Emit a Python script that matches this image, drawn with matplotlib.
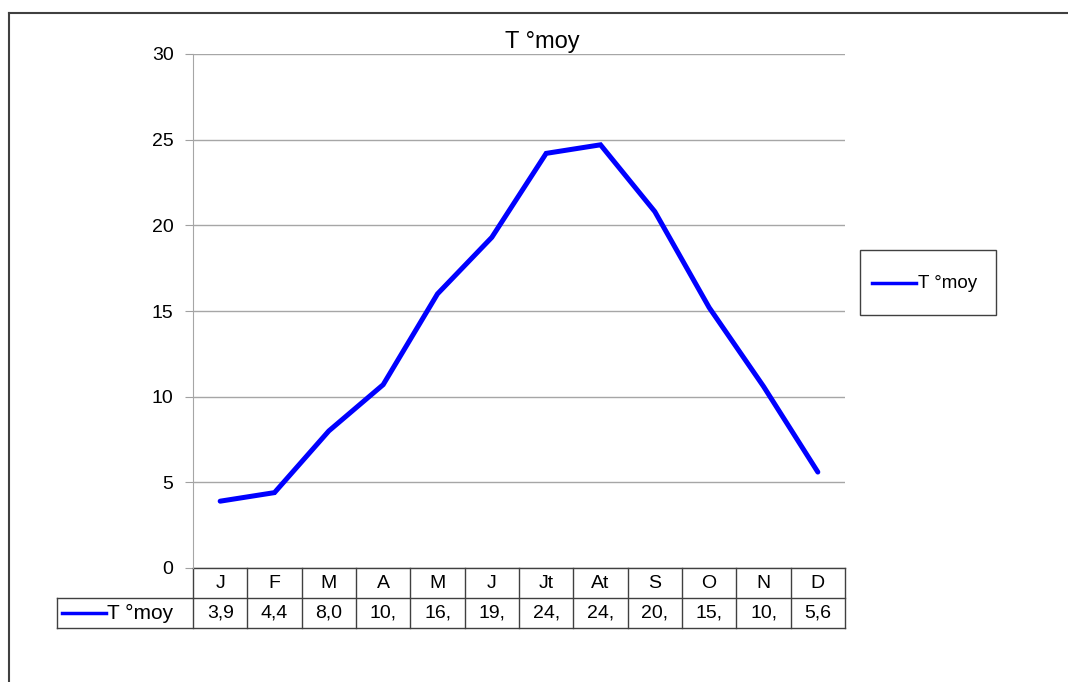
import matplotlib
matplotlib.use("Agg")
import matplotlib.pyplot as plt
from matplotlib.lines import Line2D
from matplotlib.patches import Rectangle
from matplotlib.transforms import blended_transform_factory

months = ["J", "F", "M", "A", "M", "J", "Jt", "At", "S", "O", "N", "D"]
t_moy = [3.9, 4.4, 8.0, 10.7, 16.0, 19.3, 24.2, 24.7, 20.8, 15.2, 10.6, 5.6]
series_name = "T \u00b0moy"
y_ticks = [0, 5, 10, 15, 20, 25, 30]

W, H = 1068, 682
plt.rcParams["font.family"] = ["Liberation Sans", "DejaVu Sans"]

fig = plt.figure(figsize=(W / 100, H / 100), dpi=100)
fig.patch.set_facecolor("white")


def fx(px):
    return px / W


def fy(py):
    return 1 - py / H


# plot area in pixels: left 193, right 845, top 54, bottom 568
left, right, top, bottom = 193, 845, 54, 568
ax = fig.add_axes([fx(left), fy(bottom), (right - left) / W, (bottom - top) / H])

x = list(range(len(months)))
ax.plot(x, t_moy, color="#0000ff", lw=3.6, solid_capstyle="round",
        solid_joinstyle="miter", label=series_name, zorder=3)

ax.set_xlim(-0.5, len(months) - 0.5)
ax.set_ylim(0, 30)
ax.set_yticks(y_ticks)
ax.set_yticklabels([str(v) for v in y_ticks], fontsize=14)
ax.tick_params(axis="y", length=6, color="#a0a0a0", pad=8)
ax.set_xticks([])
ax.yaxis.grid(True, color="#a6a6a6", lw=1)
ax.set_axisbelow(True)
for s in ["top", "right", "bottom"]:
    ax.spines[s].set_visible(False)
ax.spines["left"].set_color("#a6a6a6")

# chart title, centred on the whole chart frame
fig.text(fx(542), fy(42), series_name, ha="center", va="center", fontsize=17)

# data table under the axis
tr = blended_transform_factory(ax.transData, ax.transAxes)
row_h = 30 / (bottom - top)
edge = "#404040"
n = len(months)


def ax_x(px):
    return (px - left) / (right - left)


# header row (month names)
for yy in [0, -row_h]:
    ax.plot([-0.5, n - 0.5], [yy, yy], color=edge, lw=1, transform=tr, clip_on=False)
for i in range(n + 1):
    ax.plot([i - 0.5, i - 0.5], [0, -2 * row_h], color=edge, lw=1, transform=tr, clip_on=False)
for i, m in enumerate(months):
    ax.text(i, -row_h / 2, m, ha="center", va="center", fontsize=14, transform=tr)

# value row with its key
ax.plot([ax_x(57), 0], [-row_h, -row_h], color=edge, lw=1, transform=ax.transAxes, clip_on=False)
ax.plot([ax_x(57), 1], [-2 * row_h, -2 * row_h], color=edge, lw=1, transform=ax.transAxes, clip_on=False)
ax.plot([ax_x(57), ax_x(57)], [-row_h, -2 * row_h], color=edge, lw=1, transform=ax.transAxes, clip_on=False)
ax.plot([ax_x(62), ax_x(106)], [-1.5 * row_h] * 2,
        color="#0000ff", lw=2.5, transform=ax.transAxes, clip_on=False)
ax.text(ax_x(107), -1.5 * row_h, series_name, ha="left", va="center",
        fontsize=15, transform=ax.transAxes)
for i, v in enumerate(t_moy):
    txt = ("%.1f" % v).replace(".", ",")[:3]
    ax.text(i, -1.5 * row_h, txt, ha="center", va="center", fontsize=14, transform=tr)

# legend box on the right
fig.add_artist(Rectangle((fx(860), fy(315)), (996 - 860) / W, (315 - 250) / H,
                         facecolor="white", edgecolor=edge, lw=1))
fig.add_artist(Line2D([fx(872), fx(916)], [fy(283), fy(283)], color="#0000ff", lw=2.5))
fig.text(fx(918), fy(283), series_name, ha="left", va="center", fontsize=13.5)

# outer chart frame (top and left edges)
fig.add_artist(Line2D([fx(9), 1], [fy(13), fy(13)], color=edge, lw=1.5))
fig.add_artist(Line2D([fx(9), fx(9)], [fy(13), 0], color=edge, lw=1.5))

fig.savefig("out.png", dpi=100)
